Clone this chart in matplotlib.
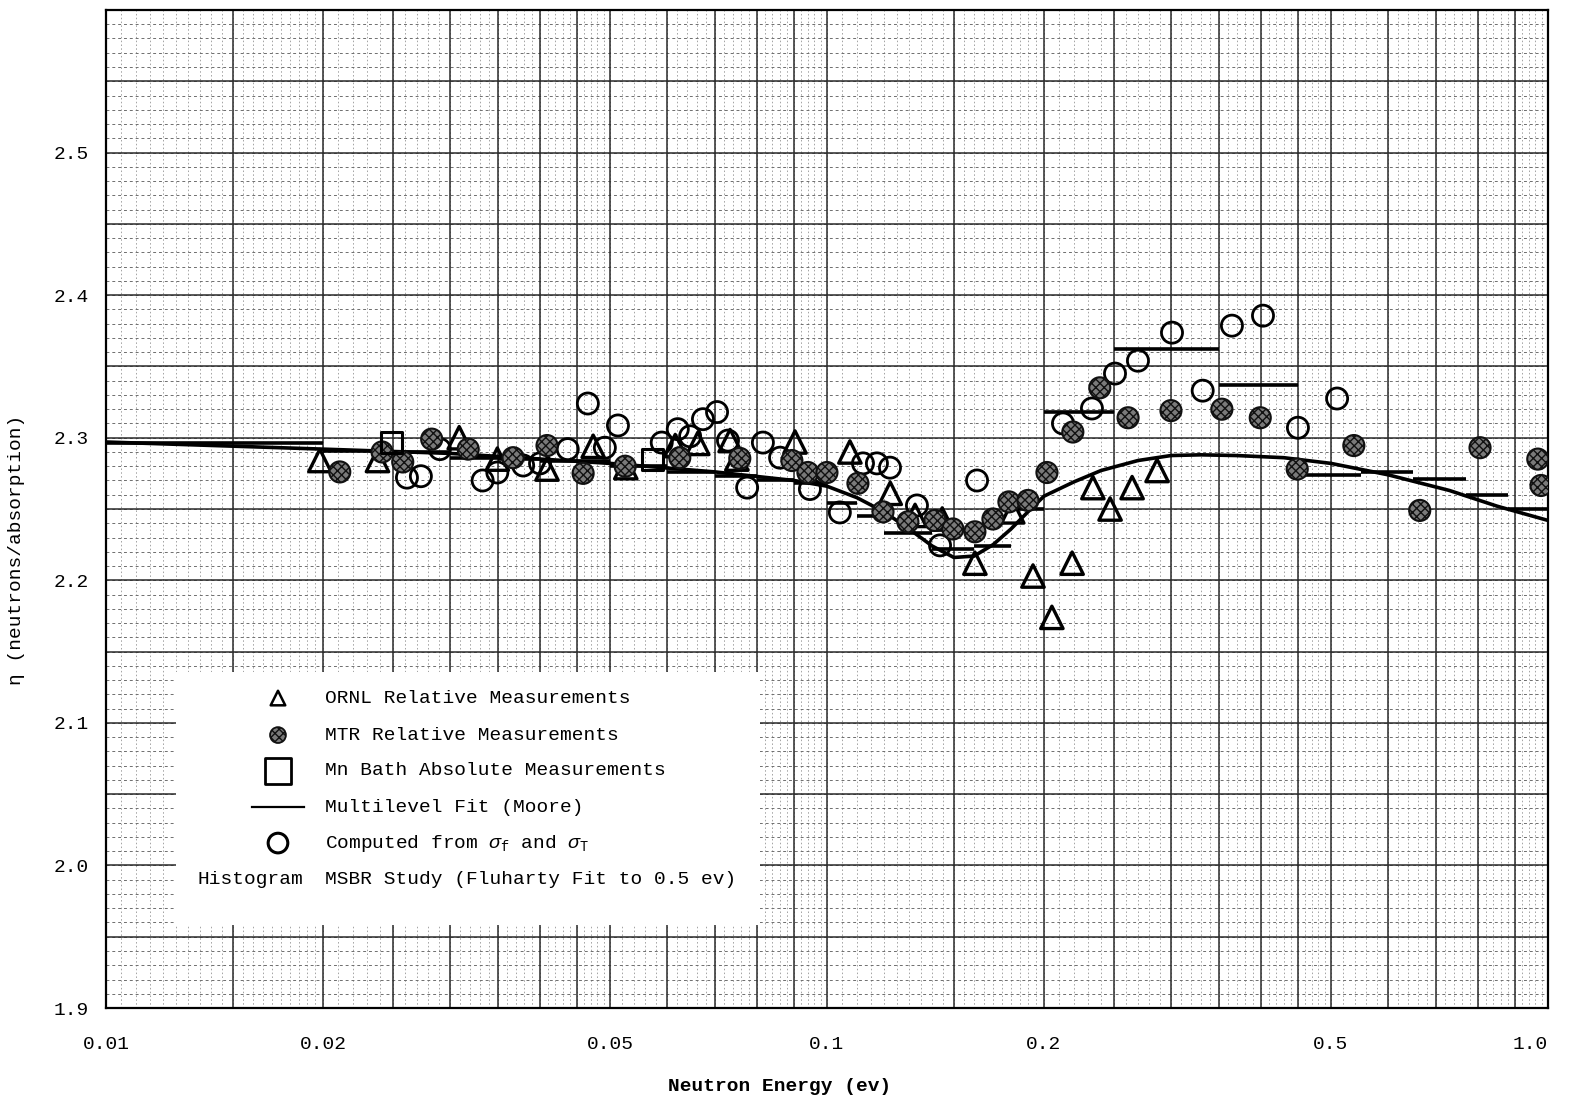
import numpy as np
import matplotlib
matplotlib.use("Agg")
import matplotlib.pyplot as plt
from matplotlib.patches import Rectangle

plt.rcParams['font.family'] = ['Liberation Mono', 'DejaVu Sans Mono']
plt.rcParams['mathtext.fontset'] = 'custom'
plt.rcParams['mathtext.rm'] = 'Liberation Mono'
plt.rcParams['mathtext.it'] = 'Liberation Mono:italic'

# ORNL relative measurements (triangles)
ornl_e = [0.0198, 0.0238, 0.0309, 0.0349, 0.0409, 0.0474, 0.0526, 0.0616, 0.0662,
          0.0734, 0.075, 0.0903, 0.1076, 0.1224, 0.1325, 0.1445, 0.1604, 0.181,
          0.1931, 0.2051, 0.2188, 0.2338, 0.247, 0.265, 0.287]
ornl_eta = [2.284, 2.284, 2.300, 2.285, 2.278, 2.294, 2.279, 2.2945, 2.296,
            2.298, 2.285, 2.297, 2.290, 2.261, 2.2455, 2.243, 2.212, 2.248,
            2.203, 2.174, 2.212, 2.265, 2.250, 2.265, 2.277]

# MTR relative measurements (hatched dots)
mtr_e = [0.0211, 0.02415, 0.0258, 0.0283, 0.0318, 0.0367, 0.0409, 0.0459, 0.0525,
         0.0625, 0.0757, 0.0894, 0.0941, 0.1, 0.1104, 0.1196, 0.1295, 0.1412,
         0.1495, 0.1604, 0.1699, 0.1788, 0.190, 0.2019, 0.2193, 0.239, 0.2616,
         0.300, 0.353, 0.399, 0.449, 0.538, 0.664, 0.805, 0.968, 0.978]
mtr_eta = [2.276, 2.290, 2.283, 2.299, 2.292, 2.286, 2.2945, 2.275, 2.280,
           2.286, 2.2855, 2.284, 2.2756, 2.2756, 2.268, 2.248, 2.241, 2.242,
           2.236, 2.234, 2.243, 2.255, 2.256, 2.2756, 2.304, 2.335, 2.314,
           2.319, 2.320, 2.314, 2.278, 2.2945, 2.249, 2.293, 2.285, 2.2665]

# Mn bath absolute measurements (squares)
mn_e = [0.0249, 0.0572]
mn_eta = [2.2966, 2.285]

# computed from sigma_f and sigma_T (open circles)
comp_e = [0.02615, 0.02734, 0.02905, 0.0333, 0.0349, 0.0379, 0.040, 0.0437, 0.0466,
          0.0492, 0.0513, 0.059, 0.0621, 0.0646, 0.0673, 0.0704, 0.0729, 0.0775,
          0.0815, 0.0861, 0.0947, 0.1042, 0.1122, 0.1173, 0.1223, 0.1333, 0.1435,
          0.1615, 0.2125, 0.2331, 0.2509, 0.270, 0.301, 0.332, 0.3645, 0.4025,
          0.450, 0.51]
comp_eta = [2.272, 2.273, 2.292, 2.270, 2.2756, 2.2805, 2.282, 2.292, 2.324,
            2.293, 2.3086, 2.2966, 2.306, 2.301, 2.313, 2.318, 2.298, 2.265,
            2.2966, 2.286, 2.264, 2.2476, 2.282, 2.282, 2.279, 2.2525, 2.2245,
            2.270, 2.310, 2.3205, 2.345, 2.354, 2.3737, 2.333, 2.3786, 2.3856,
            2.307, 2.3275]

# multilevel fit (Moore)
moore_e = [0.01, 0.02, 0.03, 0.05, 0.07, 0.09, 0.1, 0.11, 0.12, 0.13, 0.14, 0.15,
           0.16, 0.17, 0.18, 0.19, 0.2, 0.22, 0.24, 0.27, 0.3, 0.33, 0.37, 0.43,
           0.5, 0.6, 0.73, 0.85, 1.0]
moore_eta = [2.297, 2.292, 2.289, 2.282, 2.276, 2.270, 2.266, 2.258, 2.248, 2.236,
             2.224, 2.216, 2.217, 2.225, 2.236, 2.248, 2.259, 2.269, 2.277, 2.284,
             2.2875, 2.288, 2.2875, 2.286, 2.282, 2.274, 2.263, 2.252, 2.242]

# MSBR study histogram (Fluharty fit)
hist_lo = [0.01, 0.02, 0.025, 0.03, 0.035, 0.04, 0.05, 0.055, 0.06, 0.07, 0.08,
           0.09, 0.1, 0.11, 0.12, 0.14, 0.16, 0.18, 0.2, 0.25, 0.35, 0.45, 0.55,
           0.65, 0.77, 0.88]
hist_hi = [0.02, 0.025, 0.03, 0.035, 0.04, 0.05, 0.055, 0.06, 0.07, 0.08, 0.09,
           0.1, 0.11, 0.12, 0.14, 0.16, 0.18, 0.2, 0.25, 0.35, 0.45, 0.55, 0.65,
           0.77, 0.88, 1.0]
hist_eta = [2.296, 2.291, 2.290, 2.286, 2.285, 2.284, 2.2805, 2.280, 2.276, 2.273,
            2.270, 2.268, 2.254, 2.245, 2.233, 2.222, 2.224, 2.250, 2.318, 2.362,
            2.337, 2.274, 2.276, 2.271, 2.260, 2.250]

xtick_vals = [0.01, 0.02, 0.05, 0.1, 0.2, 0.5, 1.0]
xtick_labels = ['0.01', '0.02', '0.05', '0.1', '0.2', '0.5', '1.0']
ytick_vals = [1.9, 2.0, 2.1, 2.2, 2.3, 2.4, 2.5]
ytick_labels = ['1.9', '2.0', '2.1', '2.2', '2.3', '2.4', '2.5']

legend_labels = ['ORNL Relative Measurements',
                 'MTR Relative Measurements',
                 'Mn Bath Absolute Measurements',
                 'Multilevel Fit (Moore)',
                 r'Computed from $\sigma_{\rm f}$ and $\sigma_{\rm T}$',
                 'MSBR Study (Fluharty Fit to 0.5 ev)']

fig = plt.figure(figsize=(15.72, 10.97), dpi=100)
ax = fig.add_axes([0.0674, 0.0811, 0.9173, 0.9098])
ax.set_xscale('log')
ax.set_xlim(0.01, 1.0)
ax.set_ylim(1.9, 2.6)

# graph paper
minor_x, major_x = [], []
for d in [0.01, 0.1]:
    for m in np.arange(1.0, 2.0, 0.05):
        minor_x.append(d * m)
    for m in np.arange(2.0, 5.0, 0.1):
        minor_x.append(d * m)
    for m in np.arange(5.0, 10.0, 0.2):
        minor_x.append(d * m)
    for m in [1, 1.5, 2, 2.5, 3, 3.5, 4, 4.5, 5, 6, 7, 8, 9]:
        major_x.append(d * m)
minor_y = np.arange(1.9, 2.601, 0.01)
major_y = np.arange(1.9, 2.601, 0.05)

ax.vlines(minor_x, 0, 1, transform=ax.get_xaxis_transform(), colors='#8c8c8c',
          linewidth=0.55, linestyles=(0, (2, 3)), zorder=0)
ax.hlines(minor_y, 0, 1, transform=ax.get_yaxis_transform(), colors='#6e6e6e',
          linewidth=0.7, linestyles=(0, (3, 3)), zorder=0)
ax.vlines(major_x, 0, 1, transform=ax.get_xaxis_transform(), colors='#2a2a2a',
          linewidth=1.1, zorder=0.5)
ax.hlines(major_y, 0, 1, transform=ax.get_yaxis_transform(), colors='#2a2a2a',
          linewidth=1.1, zorder=0.5)

# data
ax.plot(moore_e, moore_eta, color='black', linewidth=2.6, zorder=3)
ax.hlines(hist_eta, hist_lo, hist_hi, colors='black', linewidth=2.6, zorder=3)
ax.scatter(comp_e, comp_eta, s=230, marker='o', facecolors='none',
           edgecolors='black', linewidths=2.0, zorder=4)
ax.scatter(ornl_e, ornl_eta, s=260, marker='^', facecolors='none',
           edgecolors='black', linewidths=2.4, zorder=4)
ax.scatter(mtr_e, mtr_eta, s=230, marker='o', facecolors='#7a7a7a', hatch='xxxx',
           edgecolors='#111111', linewidths=1.5, zorder=4)
ax.scatter(mn_e, mn_eta, s=230, marker='s', facecolors='none',
           edgecolors='black', linewidths=2.2, zorder=4)

# legend block
ax.add_patch(Rectangle((0.0485, 0.0832), 0.405, 0.2535, transform=ax.transAxes,
                       facecolor='white', edgecolor='none', zorder=6))
rows_y = [0.3106, 0.2735, 0.2375, 0.2014, 0.1653, 0.1283]
sym_x = 0.1193
txt_x = 0.1519
ax.scatter([sym_x], [rows_y[0]], s=110, marker='^', facecolors='none', edgecolors='black',
           linewidths=1.8, transform=ax.transAxes, zorder=7)
ax.scatter([sym_x], [rows_y[1]], s=130, marker='o', facecolors='#7a7a7a', hatch='xxxx',
           edgecolors='#111111', linewidths=1.3, transform=ax.transAxes, zorder=7)
ax.scatter([sym_x], [rows_y[2]], s=360, marker='s', facecolors='none', edgecolors='black',
           linewidths=2.0, transform=ax.transAxes, zorder=7)
ax.plot([sym_x - 0.018, sym_x + 0.018], [rows_y[3], rows_y[3]], color='black',
        linewidth=1.6, transform=ax.transAxes, zorder=7)
ax.scatter([sym_x], [rows_y[4]], s=200, marker='o', facecolors='none', edgecolors='black',
           linewidths=2.2, transform=ax.transAxes, zorder=7)
ax.text(0.1366, rows_y[5], 'Histogram', transform=ax.transAxes, ha='right', va='center',
        fontsize=14, zorder=7)
for yy, lab in zip(rows_y, legend_labels):
    ax.text(txt_x, yy, lab, transform=ax.transAxes, ha='left', va='center',
            fontsize=14, zorder=7)

# axes text
ax.set_xticks(xtick_vals)
ax.set_xticklabels(xtick_labels)
ax.xaxis.set_minor_locator(matplotlib.ticker.NullLocator())
ax.set_yticks(ytick_vals)
ax.set_yticklabels(ytick_labels)
ax.tick_params(axis='both', length=0, labelsize=14)
ax.tick_params(axis='x', pad=20)
ax.tick_params(axis='y', pad=12)
ax.get_xticklabels()[-1].set_horizontalalignment('right')
ax.set_xlabel('Neutron Energy (ev)', fontsize=14, fontweight='bold')
ax.xaxis.set_label_coords(0.4674, -0.0701)
ax.set_ylabel('η (neutrons/absorption)', fontsize=14)
ax.yaxis.set_label_coords(-0.056, 0.459)

for sp in ax.spines.values():
    sp.set_linewidth(1.6)
    sp.set_color('black')

fig.savefig('out.png', dpi=100)
